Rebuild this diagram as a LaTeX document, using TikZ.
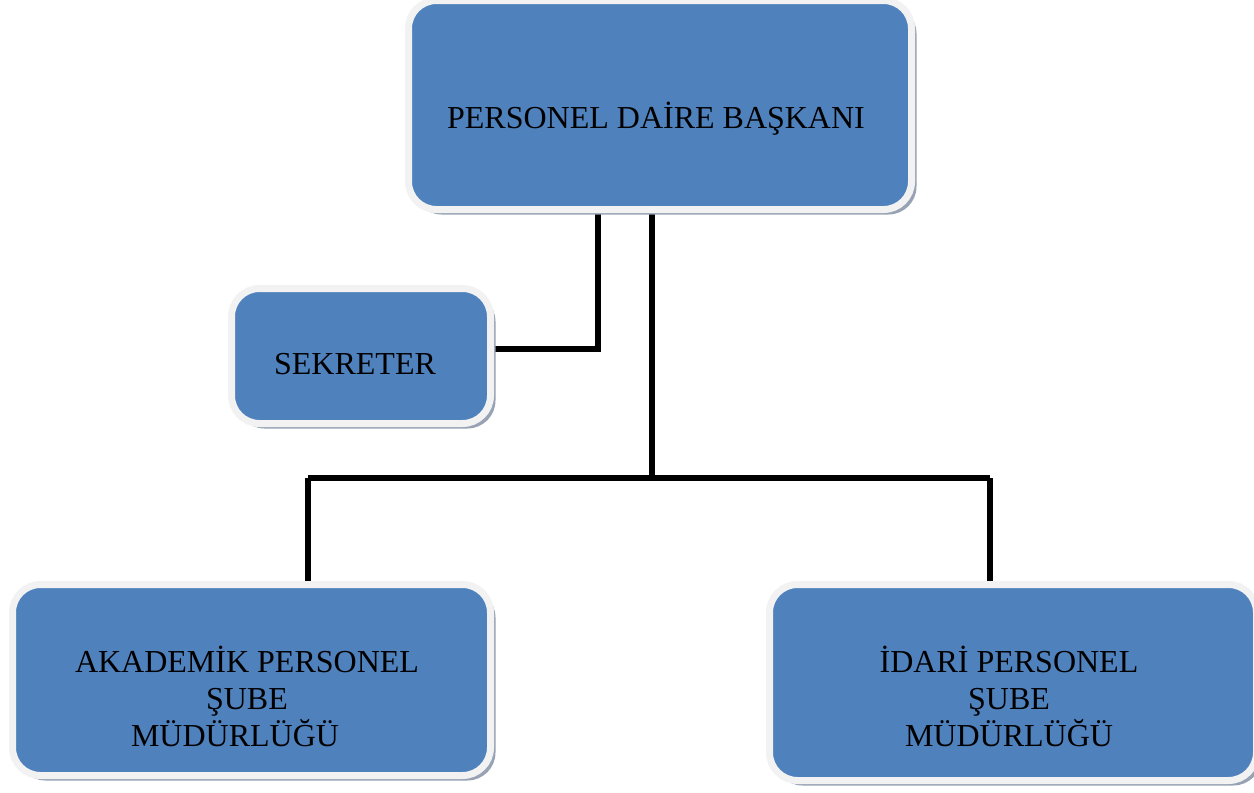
\documentclass[tikz,border=0pt]{standalone}
\usepackage{fontspec}
\setmainfont{Liberation Serif}
\usetikzlibrary{shadows,backgrounds}
\definecolor{boxblue}{HTML}{4F81BD}
\definecolor{boxrim}{HTML}{F2F2F2}
\definecolor{shadowc}{HTML}{97A3B4}
\tikzset{
  orgbox/.style={rectangle, rounded corners=28pt, fill=boxblue, draw=boxrim,
    line width=7pt, inner sep=0pt,
    drop shadow={shadow xshift=5pt, shadow yshift=-5pt, fill=shadowc, opacity=1}},
  lbl/.style={font=\fontsize{32}{37}\selectfont, text=black, inner sep=0pt, align=center},
  conn/.style={line width=6.5pt, black}
}
\begin{document}
\begin{tikzpicture}[x=1pt,y=-1pt]
\useasboundingbox (0,0) rectangle (1254,793);
\node[orgbox, minimum width=503pt, minimum height=209pt] (top) at (660,105) {};
\node[orgbox, minimum width=259pt, minimum height=135pt] (sek) at (361,356) {};
\node[orgbox, minimum width=478pt, minimum height=191pt] (aka) at (251.5,680) {};
\node[orgbox, minimum width=487pt, minimum height=196pt] (ida) at (1013,682.5) {};
\node[lbl, anchor=base] (toptext) at (656,128) {PERSONEL DAİRE BAŞKANI};
\node[lbl, anchor=base] (sektext) at (355,374) {SEKRETER};
\node[lbl, anchor=base] (akatext) at (247,746.7) {AKADEMİK PERSONEL\\ŞUBE\hspace*{6pt}\\MÜDÜRLÜĞÜ\hspace*{24pt}};
\node[lbl, anchor=base] (idatext) at (1009,746.7) {İDARİ PERSONEL\\ŞUBE\\MÜDÜRLÜĞÜ};
\coordinate (ja) at (598,349);
\coordinate (jb) at (652,478);
\coordinate (jl) at (308,478);
\coordinate (jr) at (990,478);
\begin{scope}[on background layer]
\draw[conn] (top.south -| ja) -- (ja) -- (ja -| sek.east);
\draw[conn] (top.south -| jb) -- (jb);
\draw[conn] (jl) -- (jr);
\draw[conn] (jl) -- (jl |- aka.north);
\draw[conn] (jr) -- (jr |- ida.north);
\end{scope}
\end{tikzpicture}
\end{document}
